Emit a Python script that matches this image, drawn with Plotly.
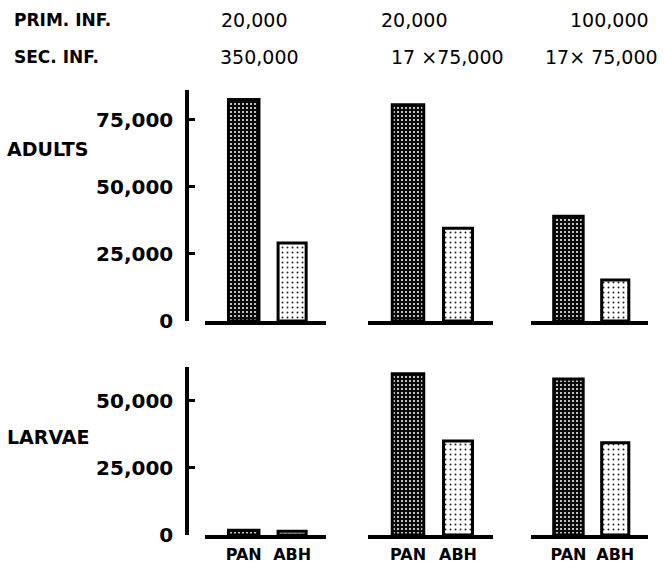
import plotly.graph_objects as go

# ---- data ----
categories = ["PAN", "ABH"]
prim_inf = ["20,000", "20,000", "100,000"]
sec_inf = ["350,000", "17 ×75,000", "17× 75,000"]
adults_pan = [82500, 80500, 39000]
adults_abh = [29000, 34500, 15300]
larvae_pan = [1800, 60000, 58000]
larvae_abh = [1400, 35000, 34300]
adult_ticks = [0, 25000, 50000, 75000]
larvae_ticks = [0, 25000, 50000]
row_labels = ["ADULTS", "LARVAE"]

W, H = 664, 568
FONT = "DejaVu Sans"

def px_x(p):
    return p / W

def px_y(p):
    return 1 - p / H

col_dom = [(205, 326), (368, 493), (531, 648)]
row_dom = [(90, 321), (367, 535)]
row_range = [86000, 62500]
row_data = [(adults_pan, adults_abh), (larvae_pan, larvae_abh)]
row_ticks = [adult_ticks, larvae_ticks]

fig = go.Figure()
layout = dict(
    width=W, height=H, margin=dict(l=0, r=0, t=0, b=0, autoexpand=False),
    paper_bgcolor="white", plot_bgcolor="white",
    showlegend=False, barmode="overlay",
    font=dict(family=FONT, color="black"),
)

dark = dict(color="#111", line=dict(color="black", width=3),
            pattern=dict(shape=".", bgcolor="#0a0a0a", fgcolor="white", size=4, solidity=0.2, fillmode="replace"))
light = dict(color="white", line=dict(color="black", width=3),
             pattern=dict(shape=".", bgcolor="white", fgcolor="#222", size=5, solidity=0.12, fillmode="replace"))

idx = 0
for r in range(2):
    pans, abhs = row_data[r]
    for c in range(3):
        idx += 1
        xa = "x" if idx == 1 else f"x{idx}"
        ya = "y" if idx == 1 else f"y{idx}"
        fig.add_trace(go.Bar(x=[categories[0]], y=[pans[c]], width=[0.63], marker=dark,
                             xaxis=xa, yaxis=ya, hoverinfo="skip"))
        fig.add_trace(go.Bar(x=[categories[1]], y=[abhs[c]], width=[0.58], marker=light,
                             xaxis=xa, yaxis=ya, hoverinfo="skip"))
        xkey = "xaxis" if idx == 1 else f"xaxis{idx}"
        ykey = "yaxis" if idx == 1 else f"yaxis{idx}"
        layout[xkey] = dict(
            domain=[px_x(col_dom[c][0]), px_x(col_dom[c][1])],
            anchor=ya, type="category", categoryorder="array", categoryarray=categories,
            range=[-0.8, 1.7], showline=True, linewidth=4, linecolor="black",
            showgrid=False, zeroline=False, ticks="", automargin=False,
            showticklabels=(r == 1), ticklabelstandoff=2,
            tickfont=dict(family=FONT, size=16, weight="bold", color="black"),
        )
        yd = dict(
            domain=[px_y(row_dom[r][1]), px_y(row_dom[r][0])],
            range=[0, row_range[r]], showgrid=False, zeroline=False, automargin=False,
        )
        if c == 0:
            yd.update(
                anchor="free", position=px_x(187), showline=True, linewidth=3.5,
                linecolor="black", ticks="inside", ticklen=6, tickwidth=2.5,
                tickcolor="black", tickvals=row_ticks[r],
                ticktext=[f"{v:,}" for v in row_ticks[r]],
                tickfont=dict(family=FONT, size=20, weight="bold", color="black"),
                ticklabelstandoff=8,
            )
        else:
            yd.update(anchor=xa, visible=False)
        layout[ykey] = yd

fig.update_layout(**layout)

ann = []
bold = dict(family=FONT, size=17, weight="bold", color="black")
ann.append(dict(text="PRIM. INF.", x=px_x(12), y=px_y(20), xanchor="left", yanchor="middle", font=bold))
ann.append(dict(text="SEC. INF.", x=px_x(12), y=px_y(57), xanchor="left", yanchor="middle", font=bold))
hdr_x = [254, 414, 609]
hdr_x2 = [259, 448, 601]
for i in range(3):
    ann.append(dict(text=prim_inf[i], x=px_x(hdr_x[i]), y=px_y(20), xanchor="center", yanchor="middle",
                    font=dict(family=FONT, size=19, color="black")))
    ann.append(dict(text=sec_inf[i], x=px_x(hdr_x2[i]), y=px_y(57), xanchor="center", yanchor="middle",
                    font=dict(family=FONT, size=19, color="black")))
ann.append(dict(text=row_labels[0], x=px_x(5), y=px_y(149), xanchor="left", yanchor="middle", font=dict(family=FONT, size=19, weight="bold", color="black")))
ann.append(dict(text=row_labels[1], x=px_x(5), y=px_y(437), xanchor="left", yanchor="middle", font=dict(family=FONT, size=19, weight="bold", color="black")))
for a in ann:
    a.update(xref="paper", yref="paper", showarrow=False)
fig.update_layout(annotations=ann)

fig.write_html("out.html")
